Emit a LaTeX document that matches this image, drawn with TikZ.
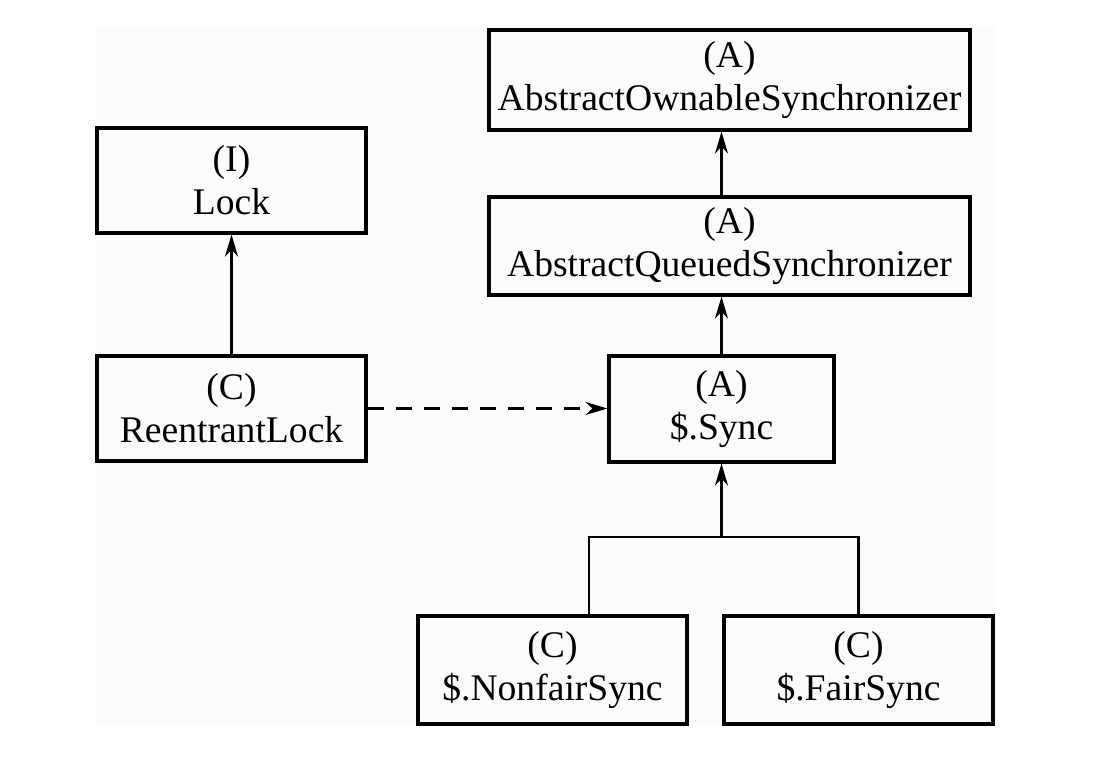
\documentclass[tikz,border=0pt]{standalone}
\usepackage{fontspec}
\setmainfont{Liberation Serif}
\usetikzlibrary{arrows.meta}
\definecolor{bgpanel}{HTML}{FBFBFB}
\begin{document}
\begin{tikzpicture}[x=0.5pt,y=-0.5pt,
  cls/.style={draw, line width=1.6pt, rectangle, align=center, inner sep=0pt,
    font=\fontsize{18.8}{21.5}\selectfont},
  conn/.style={line width=1.05pt, -{Stealth[length=11pt,width=6.5pt,inset=3.5pt]}},
  plainline/.style={line width=1.05pt},
  dashconn/.style={conn, dash pattern=on 8pt off 6pt}]
\useasboundingbox (0,0) rectangle (1093,763);
\fill[bgpanel] (96,27) rectangle (995,725);
\node[cls, minimum width=134.5pt, minimum height=52.5pt] (lock) at (231.5,180.5) {(I)\\Lock};
\node[cls, minimum width=134.5pt, minimum height=52.5pt] (rl) at (231.5,408.5) {(C)\\ReentrantLock};
\node[cls, minimum width=240.5pt, minimum height=50pt] (aos) at (729.5,80) {(A)\\AbstractOwnableSynchronizer};
\node[cls, minimum width=240.5pt, minimum height=49pt] (aqs) at (729.5,246) {(A)\\AbstractQueuedSynchronizer};
\node[cls, minimum width=112.5pt, minimum height=53pt] (sync) at (721.5,409) {(A)\\\$.Sync};
\node[cls, minimum width=134.5pt, minimum height=54pt] (nfs) at (552.5,670) {(C)\\\$.NonfairSync};
\node[cls, minimum width=134.5pt, minimum height=54pt] (fs) at (858.5,670) {(C)\\\$.FairSync};
\coordinate (jn) at (721.5,537);
\coordinate (jl) at (589,537);
\coordinate (jr) at (858.5,537);
\draw[conn] (rl.north) -- (lock.south);
\draw[conn] (aqs.north -| sync.north) -- (aos.south -| sync.north);
\draw[conn] (sync.north) -- (aqs.south -| sync.north);
\draw[dashconn] (rl.east) -- (rl.east -| sync.west);
\draw[plainline] (nfs.north -| jl) -- (jl) -- (jr) -- (fs.north);
\draw[conn] (jn) -- (sync.south);
\end{tikzpicture}
\end{document}
